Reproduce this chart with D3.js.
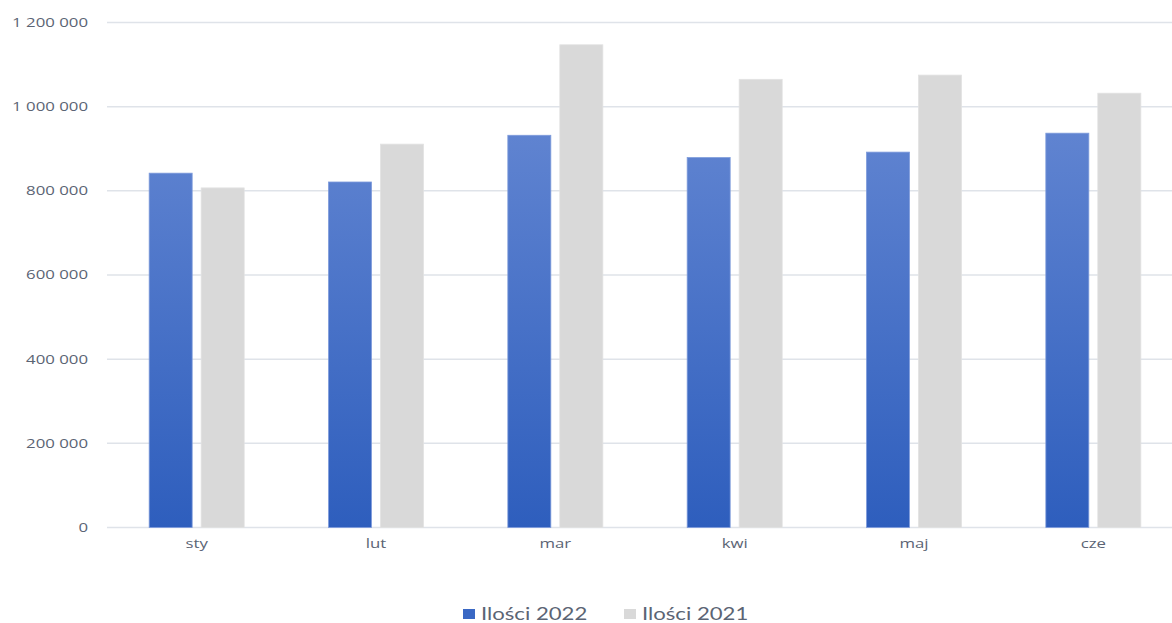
<!DOCTYPE html>
<html><head><meta charset="utf-8">
<script src="https://cdn.jsdelivr.net/npm/d3@7"></script>
<style>body{margin:0;background:#fff;}svg{display:block;}</style>
</head><body>
<svg id="c" width="1172" height="623"></svg>
<script>
const categories = ["sty","lut","mar","kwi","maj","cze"];
const values2022 = [842000, 821000, 932000, 879000, 892000, 937000];
const values2021 = [807000, 911000, 1147000, 1065000, 1075000, 1032000];
const seriesNames = ["Ilości 2022", "Ilości 2021"];
const yTicks = [0,200000,400000,600000,800000,1000000,1200000];

const svg = d3.select("#c");
const x = d3.scaleBand().domain(categories).range([107, 1183]).paddingInner(0).paddingOuter(0);
const y = d3.scaleLinear().domain([0, 1200000]).range([527.5, 22.5]);
const fmt = v => d3.format(",")(v).replace(/,/g, " ");

const defs = svg.append("defs");
const g = defs.append("linearGradient").attr("id","blueGrad").attr("gradientUnits","userSpaceOnUse")
  .attr("x1",0).attr("y1",y(1000000)).attr("x2",0).attr("y2",y(0));
g.append("stop").attr("offset","0%").attr("stop-color","#6386d2");
g.append("stop").attr("offset","100%").attr("stop-color","#2e5ebd");

// gridlines
svg.append("g").selectAll("line").data(yTicks).join("line")
  .attr("x1",107).attr("x2",1172).attr("y1",d=>y(d)).attr("y2",d=>y(d))
  .attr("stroke","#dfe3e9").attr("stroke-width",1.5);

// y axis labels
const yAxis = svg.append("g").attr("transform","translate(88,0)")
  .call(d3.axisLeft(y).tickValues(yTicks).tickFormat(fmt).tickSize(0).tickPadding(0));
yAxis.select(".domain").remove();
yAxis.selectAll("text").attr("fill","#5b6474").attr("transform","scale(1.4,1)")
  .style("font-family","Open Sans, sans-serif").style("font-size","12px");

const bw = 43, gap = 9;
const groups = svg.append("g").selectAll("g").data(categories).join("g");
groups.append("rect")
  .attr("x",(d)=>x(d)+x.bandwidth()/2 - gap/2 - bw)
  .attr("width",bw)
  .attr("y",(d,i)=>y(values2022[i]))
  .attr("height",(d,i)=>y(0)-y(values2022[i]))
  .attr("fill","url(#blueGrad)").attr("stroke","#7e9bdb").attr("stroke-width",0.8);
groups.append("rect")
  .attr("x",(d)=>x(d)+x.bandwidth()/2 + gap/2)
  .attr("width",bw)
  .attr("y",(d,i)=>y(values2021[i]))
  .attr("height",(d,i)=>y(0)-y(values2021[i]))
  .attr("fill","#d9d9d9").attr("stroke","#e2e2e2").attr("stroke-width",0.8);

// x axis labels
const xAxis = svg.append("g").attr("transform","translate(0,537)")
  .call(d3.axisBottom(x).tickSize(0).tickPadding(0));
xAxis.select(".domain").remove();
xAxis.selectAll("text").attr("fill","#5b6474").attr("dy","0.9em").attr("transform","scale(1.4,1)")
  .style("font-family","Open Sans, sans-serif").style("font-size","12px");

// legend
const legend = svg.append("g").attr("transform","translate(0,614)");
const legItems = [{name:seriesNames[0], color:"#3a68c4", x:463},{name:seriesNames[1], color:"#d9d9d9", x:624}];
legItems.forEach(it=>{
  legend.append("rect").attr("x",it.x).attr("y",-5).attr("width",12).attr("height",10).attr("fill",it.color);
  legend.append("text").attr("transform",`translate(${it.x+18},0) scale(1.23,1)`).attr("dy","0.36em").text(it.name)
    .attr("fill","#5b6474").style("font-family","Lato, sans-serif").style("font-size","18px");
});
</script>
</body></html>
